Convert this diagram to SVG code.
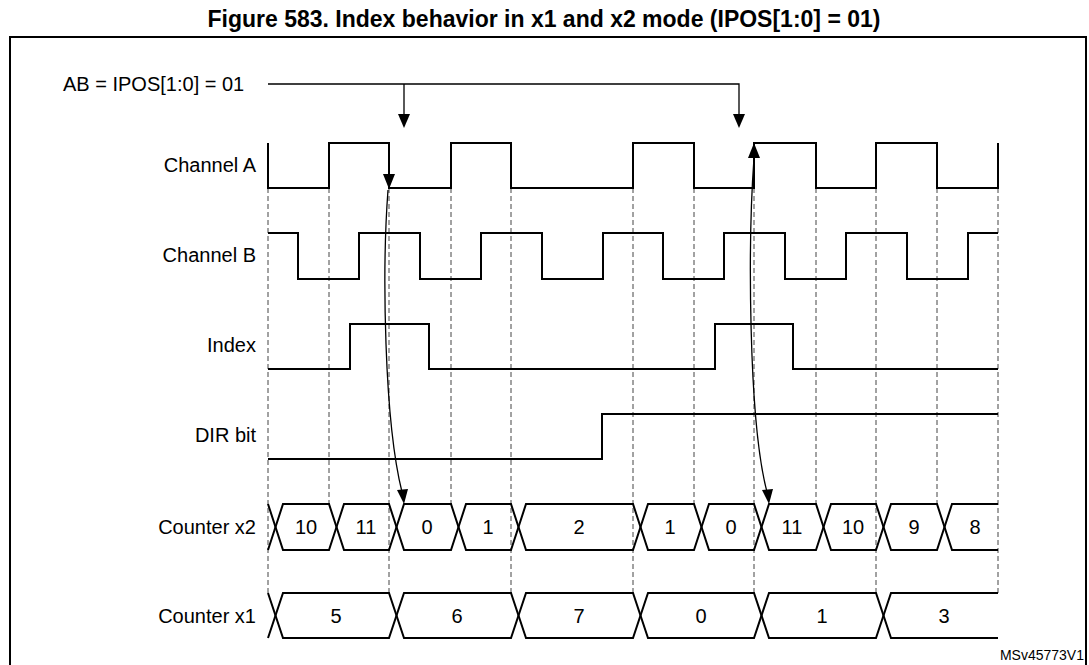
<svg xmlns="http://www.w3.org/2000/svg" width="1089" height="665" viewBox="0 0 1089 665">
<style>
.t{font-family:"Liberation Sans",Arial,sans-serif;font-size:20px;fill:#000}
.l{font-family:"Liberation Sans",Arial,sans-serif;font-size:20px;text-anchor:end}
.v{font-family:"Liberation Sans",Arial,sans-serif;font-size:20px;text-anchor:middle}
.w{fill:none;stroke:#000;stroke-width:2}
.d{fill:none;stroke:#444;stroke-width:1;stroke-dasharray:5,3}
.a{fill:none;stroke:#000;stroke-width:1.3}
</style>
<rect width="1089" height="665" fill="#fff"/>
<text x="544" y="27" text-anchor="middle" font-family="Liberation Sans,Arial,sans-serif" font-size="23" font-weight="bold">Figure 583. Index behavior in x1 and x2 mode (IPOS[1:0] = 01)</text>
<rect x="10" y="37" width="1076" height="640" fill="none" stroke="#000" stroke-width="2"/>
<g id="labels">
<text class="l" x="256" y="172">Channel A</text>
<text class="l" x="256" y="262">Channel B</text>
<text class="l" x="256" y="352">Index</text>
<text class="l" x="256" y="442">DIR bit</text>
<text class="l" x="256" y="534">Counter x2</text>
<text class="l" x="256" y="623">Counter x1</text>
<text class="t" x="63" y="91">AB = IPOS[1:0] = 01</text>
<text x="1084" y="660" text-anchor="end" font-family="Liberation Sans,Arial,sans-serif" font-size="14">MSv45773V1</text>
</g>
<g id="grid">
<path class="d" d="M268 188V593M329 188V504M389 188V593M451 188V504M511 188V593M633 188V593M694 188V504M754 188V593M816 188V504M876 188V593M937 188V504M998 188V593"/>
</g>
<g id="channelA"><path class="w" d="M268 143V188H329V143H389V188H451V143H511V188H633V143H694V188H754V143H816V188H876V143H937V188H998V143"/></g>
<g id="channelB"><path class="w" d="M268 233H298V279H359V233H420V279H481V233H542V279H603V233H663V279H724V233H785V279H846V233H907V279H968V233H998"/></g>
<g id="index"><path class="w" d="M268 369H350V324H429V369H715V324H793V369H998"/></g>
<g id="dir"><path class="w" d="M268 459H602V414H998"/></g>
<g id="counterx2">
<path class="w" d="M268 504L283 550H329L344 504H389L404 550H451L466 504H511L526 550H633L648 504H694L709 550H754L769 504H816L831 550H876L891 504H937L952 550H998"/>
<path class="w" d="M268 550L283 504H329L344 550H389L404 504H451L466 550H511L526 504H633L648 550H694L709 504H754L769 550H816L831 504H876L891 550H937L952 504H998"/>
<text class="v" x="306" y="534">10</text><text class="v" x="366" y="534">11</text><text class="v" x="427" y="534">0</text><text class="v" x="488" y="534">1</text><text class="v" x="579" y="534">2</text><text class="v" x="670" y="534">1</text><text class="v" x="731" y="534">0</text><text class="v" x="792" y="534">11</text><text class="v" x="853" y="534">10</text><text class="v" x="914" y="534">9</text><text class="v" x="975" y="534">8</text>
</g>
<g id="counterx1">
<path class="w" d="M268 593L283 638H389L404 593H511L526 638H633L648 593H754L769 638H876L891 593H998"/>
<path class="w" d="M268 638L283 593H389L404 638H511L526 593H633L648 638H754L769 593H876L891 638H998"/>
<text class="v" x="336" y="623">5</text><text class="v" x="457" y="623">6</text><text class="v" x="579" y="623">7</text><text class="v" x="701" y="623">0</text><text class="v" x="822" y="623">1</text><text class="v" x="944" y="623">3</text>
</g>
<g id="connectors">
<path class="a" d="M268 84H739V116M404 84V116"/>
<polygon points="398,114 410,114 404,128"/>
<polygon points="733,114 745,114 739,128"/>
<path class="a" d="M388 190C382 270 384 420 402 492"/>
<polygon points="383,174 395,174 389,189"/>
<polygon points="397,490 408,489 404,504"/>
<path class="a" d="M754 158C748 240 748 420 767 492"/>
<polygon points="748,158 760,158 754,143"/>
<polygon points="762,490 773,489 769,504"/>
</g>
</svg>
